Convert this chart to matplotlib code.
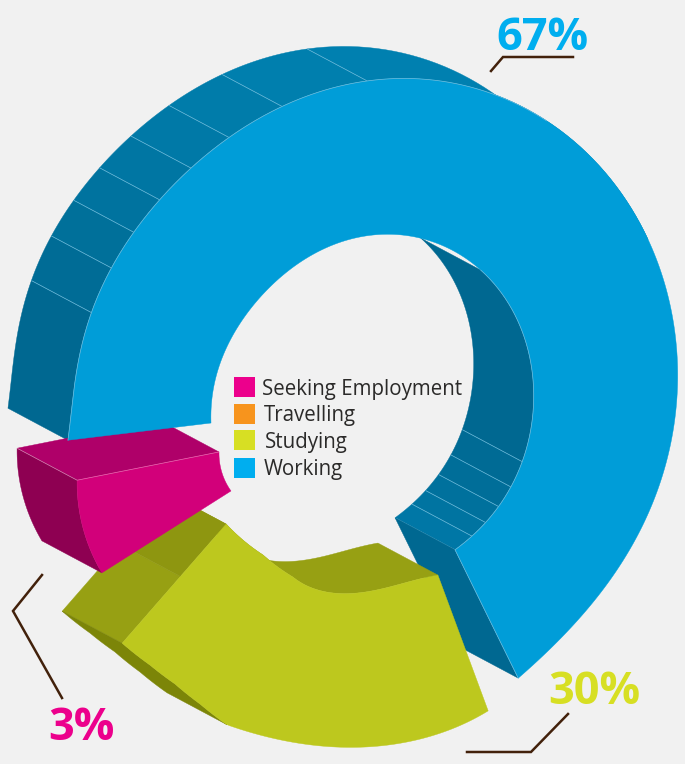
import numpy as np
import matplotlib
matplotlib.use('Agg')
import matplotlib.pyplot as plt
from matplotlib.patches import Polygon, Rectangle

# shares printed on the chart and the legend
legend_labels = ['Seeking Employment', 'Travelling', 'Studying', 'Working']
legend_colors = ['#ec008c', '#f7941d', '#d7df23', '#00aeef']
share_labels = ['67%', '30%', '3%']
share_colors = ['#00aeef', '#d7df23', '#ec008c']

# ring outlines: clock angle (deg) and radius (px) round the centre
working_outer_a = [-99.6, -88.0, -77.9, -64.3, -55.7, -47.2, -38.1, -28.3, -16.3, 0.4, 19.1, 30.5, 41.5,
                   50.1, 58.7, 67.4, 76.6, 86.9, 91.3, 99.8, 108.9, 118.4, 127.8, 137.3, 145.3, 152.0]
working_outer_r = [301.2, 290.2, 285.4, 280.9, 280.7, 279.5, 282.1, 287.2, 294.9, 309.0, 320.7, 325.0, 324.5,
                   323.0, 321.7, 319.6, 315.6, 312.5, 312.1, 311.5, 308.6, 309.2, 310.0, 312.8, 319.8, 326.1]
working_inner_a = [-102.1, -90.0, -80.2, -61.5, -41.2, -23.7, -3.0, 9.1, 19.9, 31.3, 43.8, 57.6, 70.2,
                   84.2, 101.3, 114.5, 123.6, 131.1, 137.7, 143.8, 150.6]
working_inner_r = [157.5, 152.0, 147.1, 142.3, 139.6, 144.2, 153.2, 158.0, 161.7, 163.8, 166.2, 168.1, 168.0,
                   168.9, 168.3, 173.6, 175.3, 177.9, 178.4, 181.0, 183.6]
studying_outer_a = [159.0, 167.7, 182.1, 190.4, 200.2, 202.4, 207.7, 212.9, 218.0, 223.8]
studying_outer_r = [343.8, 351.0, 358.2, 358.9, 361.3, 362.3, 354.7, 350.0, 349.1, 350.8]
studying_inner_a = [158.5, 170.7, 182.3, 201.1, 211.7, 226.0]
studying_inner_r = [198.9, 197.6, 203.2, 200.4, 194.0, 193.0]
seeking_outer_a = [-124.8, -116.1, -107.4]
seeking_outer_r = [320.4, 314.0, 301.7]
seeking_inner_a = [-127.0, -120.1, -113.0]
seeking_inner_r = [167.8, 165.3, 158.6]

# where the facets on the side walls change
outer_breaks = [-99.6, -74.2, -64.3, -55.7, -47.2, -38.1, -28.3, -16.3, 0.4, 62.0]
outer_shades = ['#006891', '#006c96', '#00709a', '#00739f', '#0076a3', '#0079a7', '#007caa', '#007fae', '#0080b0']
inner_breaks = [44.0, 114.5, 123.6, 131.1, 137.7, 143.8, 150.6]
inner_shades = ['#006891', '#006b95', '#006e99', '#00719d', '#0074a1', '#0077a6']

CX, CY = 365, 390
DX, DY = -60, -32  # extrusion of the ring
BG = '#f1f1f1'
SEAM = '#6fbcdc'


def trace(angles, radii, deg, tail=0):
    # least squares curve through the read points, the last `tail` points stay as read
    a = np.array(angles, dtype=float)
    r = np.array(radii, dtype=float)
    k = len(a) - tail
    mid, span = a[:k].mean(), np.ptp(a[:k])
    coef = np.polyfit((a[:k] - mid) / span, r[:k], deg)
    fine = np.linspace(a[0], a[k - 1], 300)
    curve = np.column_stack([fine, np.polyval(coef, (fine - mid) / span)])
    if tail:
        curve = np.vstack([curve, np.column_stack([a[k:], r[k:]])])
    return curve


def edge(curve, a0=None, a1=None, n=120):
    a0 = curve[0, 0] if a0 is None else a0
    a1 = curve[-1, 0] if a1 is None else a1
    a = np.linspace(a0, a1, n)
    r = np.interp(a, curve[:, 0], curve[:, 1])
    rad = np.radians(a)
    return np.column_stack([CX + r * np.sin(rad), CY - r * np.cos(rad)])


def wall(ax, pts, color, z):
    back = pts + [DX, DY]
    ax.add_patch(Polygon(np.vstack([pts, back[::-1]]), closed=True, fc=color, ec=color, lw=0.3, zorder=z))


def seam(ax, a, b, z, color=SEAM, lw=0.5):
    ax.plot([a[0], b[0]], [a[1], b[1]], color=color, lw=lw, zorder=z, solid_capstyle='butt')


def main():
    fig = plt.figure(figsize=(6.85, 7.64), dpi=100, facecolor=BG)
    ax = fig.add_axes([0, 0, 1, 1])
    ax.set_xlim(0, 685)
    ax.set_ylim(764, 0)
    ax.axis('off')

    w_out = trace(working_outer_a, working_outer_r, 9)
    w_in = trace(working_inner_a, working_inner_r, 8)
    st_out = trace(studying_outer_a, studying_outer_r, 3, tail=4)
    st_in = trace(studying_inner_a, studying_inner_r, 3, tail=2)
    se_out = trace(seeking_outer_a, seeking_outer_r, 2)
    se_in = trace(seeking_inner_a, seeking_inner_r, 2)

    # working: outer wall facets
    for a0, a1, c in zip(outer_breaks[:-1], outer_breaks[1:], outer_shades):
        wall(ax, edge(w_out, a0, a1, 40), c, 1)
    for a in outer_breaks[1:-1]:
        p = edge(w_out, a, a, 1)[0]
        seam(ax, p, p + [DX, DY], 2)

    # working: inner wall facets and the end cap
    for a0, a1, c in zip(inner_breaks[:-1], inner_breaks[1:], inner_shades):
        wall(ax, edge(w_in, a0, a1, 60), c, 1)
    for a in inner_breaks[1:]:
        p = edge(w_in, a, a, 1)[0]
        seam(ax, p, p + [DX, DY], 2)
    cap = np.array([edge(w_in)[-1], edge(w_out)[-1]])
    wall(ax, cap, '#006891', 3)

    # studying: inner wall, end cap in two tones, outer wall
    wall(ax, edge(st_in), '#97a013', 4)
    a_out, a_in = edge(st_out)[-1], edge(st_in)[-1]
    mid = a_out + 0.56 * (a_in - a_out)
    wall(ax, np.array([a_out, mid]), '#97a013', 5)
    wall(ax, np.array([mid, a_in]), '#8e9610', 5)
    wall(ax, edge(st_out, 202.4, None, 80), '#7c8508', 5)

    st_face = np.vstack([edge(st_out), edge(st_in)[::-1]])
    ax.add_patch(Polygon(st_face, closed=True, fc='#bdc81e', ec='#bdc81e', lw=0.3, zorder=6))

    # seeking employment
    wall(ax, np.array([edge(se_out)[-1], edge(se_in)[-1]]), '#af0069', 7)
    wall(ax, edge(se_out), '#8e0052', 7)
    se_face = np.vstack([edge(se_out), edge(se_in)[::-1]])
    ax.add_patch(Polygon(se_face, closed=True, fc='#d2007a', ec='#d2007a', lw=0.3, zorder=8))
    corner_a, corner_b = edge(se_out)[-1], edge(se_in)[-1]
    seam(ax, corner_a, corner_b, 8.5, color='#e56aae')
    seam(ax, corner_a, corner_a + [DX, DY], 8.5, color='#d884b4')

    # working: top face goes over everything it touches
    w_face = np.vstack([edge(w_out, n=400), edge(w_in, n=400)[::-1]])
    ax.add_patch(Polygon(w_face, closed=True, fc='#009dd8', ec='#009dd8', lw=0.3, zorder=9))

    # thin light lines where the top face meets its walls
    rim = edge(w_out, -99.6, 34.0, 200)
    ax.plot(rim[:, 0], rim[:, 1], color=SEAM, lw=0.5, zorder=9.5)
    rim = edge(w_in, 44.0, 150.6, 200)
    ax.plot(rim[:, 0], rim[:, 1], color=SEAM, lw=0.5, zorder=9.5)
    seam(ax, cap[0], cap[1], 9.5)

    # legend
    for i, (label, color) in enumerate(zip(legend_labels, legend_colors)):
        y = [377, 404, 430, 458][i]
        ax.add_patch(Rectangle((234, y), 21, 20, fc=color, ec='none', zorder=10))
        ax.text([262, 264, 265, 264][i], y + [12, 12, 12.5, 11][i], label, fontsize=14.8, family='Open Sans',
                color='#2b2a29', va='center', ha='left', zorder=10)

    # percentages and leader lines
    for label, color, x, y in zip(share_labels, share_colors, [542, 594, 81], [38, 692, 729]):
        ax.text(x, y, label, fontsize=32.5, family='Open Sans', fontweight='bold',
                color=color, ha='center', va='center', zorder=10)
    for xs, ys in [([491, 503, 573], [71, 57, 57]),
                   ([467, 531, 568], [752, 752, 714]),
                   ([42, 13, 62], [575, 611, 698])]:
        ax.plot(xs, ys, color='#42210b', lw=1.8, zorder=10, solid_joinstyle='miter')

    fig.savefig('out.png', dpi=100, facecolor=BG)


if __name__ == "__main__":
    main()
